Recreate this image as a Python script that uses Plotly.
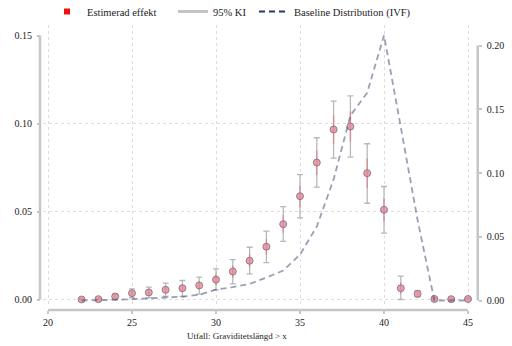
import plotly.graph_objects as go

# Outcome threshold (gestational length in weeks)
weeks = [22, 23, 24, 25, 26, 27, 28, 29, 30, 31, 32, 33,
         34, 35, 36, 37, 38, 39, 40, 41, 42, 43, 44, 45]

# Estimated effect with 95% confidence interval (left axis)
effect = [0.0000, 0.0002, 0.0017, 0.0036, 0.0040, 0.0055, 0.0064, 0.0080,
          0.0113, 0.0159, 0.0220, 0.0300, 0.0428, 0.0587, 0.0778, 0.0966,
          0.0983, 0.0718, 0.0510, 0.0064, 0.0032, 0.0003, 0.0002, 0.0003]
ci_low = [0.0000, 0.0000, 0.0005, 0.0010, 0.0010, 0.0017, 0.0017, 0.0030,
          0.0055, 0.0089, 0.0146, 0.0209, 0.0330, 0.0464, 0.0638, 0.0803,
          0.0809, 0.0547, 0.0377, 0.0000, 0.0015, 0.0000, 0.0000, 0.0000]
ci_high = [0.0005, 0.0008, 0.0030, 0.0060, 0.0070, 0.0093, 0.0108, 0.0127,
           0.0174, 0.0227, 0.0297, 0.0388, 0.0528, 0.0710, 0.0919, 0.1127,
           0.1157, 0.0885, 0.0642, 0.0133, 0.0050, 0.0010, 0.0008, 0.0010]

# Baseline distribution for IVF pregnancies (right axis)
baseline = [0.0000, 0.0000, 0.0005, 0.0010, 0.0018, 0.0025, 0.0030, 0.0045,
            0.0086, 0.0105, 0.0130, 0.0180, 0.0235, 0.0360, 0.0580, 0.0950,
            0.1450, 0.1630, 0.2080, 0.1360, 0.0630, 0.0000, 0.0000, 0.0000]

x_ticks = [20, 25, 30, 35, 40, 45]
left_ticks = [0.0, 0.05, 0.10, 0.15]
left_grid = [0.0, 0.05, 0.10]
right_ticks = [0.0, 0.05, 0.10, 0.15, 0.20]

FONT = "Liberation Serif, Times New Roman, serif"
AXIS_GRAY = "#c6c6c6"
TEXT = "#222222"

W, H = 512, 346
# plot region in pixels
L, R, T, B = 43, 473, 25, 307
x_px_per_unit = 16.8
left_zero, left_scale = 299.5, 1760.0
right_zero, right_scale = 300.5, 1275.0

x_range = [20 - (48 - L) / x_px_per_unit, 45 + (R - 468) / x_px_per_unit]
y_range = [-(B - left_zero) / left_scale, (left_zero - T) / left_scale]
y2_range = [-(B - right_zero) / right_scale, (right_zero - T) / right_scale]

up = [h - e for h, e in zip(ci_high, effect)]
dn = [e - l for e, l in zip(effect, ci_low)]

fig = go.Figure()

# Baseline distribution, dashed, on the secondary axis
fig.add_trace(go.Scatter(
    x=weeks, y=baseline, yaxis="y2", mode="lines",
    line=dict(color="rgba(50,68,110,0.5)", width=1.8, dash="6px,4px"),
    showlegend=False, hoverinfo="skip"))

# 95% CI whiskers
fig.add_trace(go.Scatter(
    x=weeks, y=effect, mode="markers", marker=dict(size=1, opacity=0),
    error_y=dict(type="data", array=up, arrayminus=dn, color="#b8b8b8",
                 thickness=1.3, width=3),
    showlegend=False, hoverinfo="skip"))

# inner tint near the point estimate
fig.add_trace(go.Scatter(
    x=weeks, y=effect, mode="markers", marker=dict(size=1, opacity=0),
    error_y=dict(type="data", array=[u * 0.5 for u in up],
                 arrayminus=[d * 0.5 for d in dn],
                 color="rgba(225,95,115,0.5)", thickness=1.4, width=0),
    showlegend=False, hoverinfo="skip"))

# point estimates
fig.add_trace(go.Scatter(
    x=weeks, y=effect, mode="markers",
    marker=dict(symbol="circle", size=7, color="rgba(230,135,152,0.8)",
                line=dict(color="rgba(125,110,120,0.8)", width=1)),
    showlegend=False))

# legend entries, each in its own legend box
fig.add_trace(go.Scatter(
    x=[None], y=[None], mode="markers", name="Estimerad effekt",
    legend="legend",
    marker=dict(symbol="square", size=6, color="#ee1111")))
fig.add_trace(go.Scatter(
    x=[None], y=[None], mode="lines", name="95% KI", legend="legend2",
    line=dict(color="#c4c4c4", width=3)))
fig.add_trace(go.Scatter(
    x=[None], y=[None], mode="lines", name="Baseline Distribution (IVF)",
    legend="legend3",
    line=dict(color="#1f3d66", width=2, dash="6px,4px")))

x_dom = [L / W, R / W]
y_dom = [1 - B / H, 1 - T / H]

shapes = []
# horizontal dotted gridlines
for g in left_grid:
    shapes.append(dict(type="line", xref="paper", yref="y",
                       x0=x_dom[0], x1=x_dom[1], y0=g, y1=g,
                       line=dict(color="#dcdcdc", width=1, dash="dot"),
                       layer="below"))
# axis lines spanning the labelled range only
left_pos = 40 / W
right_pos = 477.7 / W
bottom_pos = 1 - 310 / H
shapes.append(dict(type="line", xref="paper", yref="y",
                   x0=left_pos, x1=left_pos, y0=left_ticks[0], y1=left_ticks[-1],
                   line=dict(color=AXIS_GRAY, width=2.5)))
shapes.append(dict(type="line", xref="paper", yref="y2",
                   x0=right_pos, x1=right_pos, y0=right_ticks[0], y1=right_ticks[-1],
                   line=dict(color=AXIS_GRAY, width=2.5)))
shapes.append(dict(type="line", xref="x", yref="paper",
                   x0=x_ticks[0], x1=x_ticks[-1], y0=bottom_pos, y1=bottom_pos,
                   line=dict(color=AXIS_GRAY, width=2.5)))


def legend_box(text_left):
    return dict(orientation="h", x=(text_left - 40) / W, xanchor="left",
                y=1 - 11.5 / H, yanchor="middle", itemwidth=30,
                font=dict(family=FONT, size=10.5, color=TEXT),
                bgcolor="rgba(0,0,0,0)")


fig.update_layout(
    width=W, height=H,
    margin=dict(l=0, r=0, t=0, b=0, autoexpand=False),
    paper_bgcolor="white", plot_bgcolor="white",
    font=dict(family=FONT, size=10, color=TEXT),
    xaxis=dict(domain=x_dom, range=x_range, anchor="free", position=bottom_pos,
               tickvals=x_ticks, ticks="outside", ticklen=3, tickwidth=1.5,
               tickcolor=AXIS_GRAY, showline=False, zeroline=False,
               showgrid=True, gridcolor="#dcdcdc", griddash="dot", gridwidth=1,
               tickfont=dict(family=FONT, size=10, color=TEXT),
               ticklabelstandoff=0),
    yaxis=dict(domain=y_dom, range=y_range, anchor="free", position=left_pos,
               tickvals=left_ticks, tickformat=".2f", ticks="outside",
               ticklen=3, tickwidth=1.5, tickcolor=AXIS_GRAY,
               showline=False, zeroline=False, showgrid=False,
               tickfont=dict(family=FONT, size=10, color=TEXT),
               ticklabelstandoff=3),
    yaxis2=dict(domain=y_dom, range=y2_range, overlaying="y", side="right",
                anchor="free", position=right_pos,
                tickvals=right_ticks, tickformat=".2f", ticks="outside",
                ticklen=3, tickwidth=1.5, tickcolor=AXIS_GRAY,
                showline=False, zeroline=False, showgrid=False,
                tickfont=dict(family=FONT, size=10, color=TEXT),
                ticklabelstandoff=3),
    legend=legend_box(87),
    legend2=legend_box(213),
    legend3=legend_box(294),
    shapes=shapes,
    annotations=[dict(text="Utfall: Graviditetslängd > x", xref="paper",
                      yref="paper", x=236.5 / W, y=1 - 336 / H,
                      xanchor="center", yanchor="middle", showarrow=False,
                      font=dict(family=FONT, size=9, color=TEXT))],
)

fig.write_html("out.html")
